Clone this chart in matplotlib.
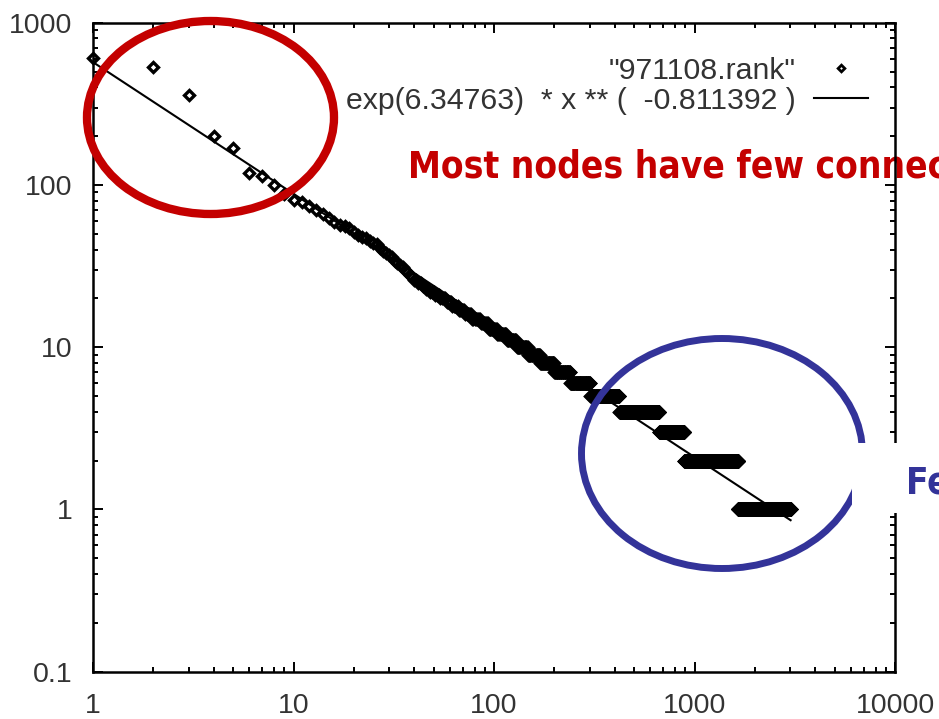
import matplotlib
matplotlib.use("Agg")
import matplotlib.pyplot as plt
from matplotlib.patches import Ellipse, Rectangle
import numpy as np

# degree of the top ranked nodes (rank 1..33)
top_degree = [604, 531, 357, 199, 169, 119, 114, 100, 88, 81,
              79, 74, 70, 66, 63, 59, 57, 56, 54, 51,
              49, 48, 47, 45, 44, 43, 41, 39, 38, 37,
              36, 34, 33]

# below that: degree level and the first rank that has it
tail_degree = [32, 31, 30, 29, 28, 27, 26, 25, 24, 23, 22, 21, 20, 19, 18,
               17, 16, 15, 14, 13, 12, 11, 10, 9, 8, 7, 6, 5, 4, 3, 2, 1]
tail_first_rank = [34, 35, 36, 37, 38, 39, 40, 42, 44, 46, 48, 51, 54, 58, 62,
                   67, 72, 78, 86, 94, 104, 116, 130, 148, 170, 200, 240, 302,
                   422, 668, 890, 1650]
last_rank = 3015

fit_a = 6.34763
fit_b = -0.811392

x_ticks = [1, 10, 100, 1000, 10000]
x_labels = ["1", "10", "100", "1000", "10000"]
y_ticks = [0.1, 1, 10, 100, 1000]
y_labels = ["0.1", "1", "10", "100", "1000"]

W, H = 939, 719

counts = np.diff(tail_first_rank + [last_rank + 1])
ranks = np.arange(1, last_rank + 1)
degrees = np.concatenate([top_degree, np.repeat(tail_degree, counts)])

x_fit = np.array([1, last_rank])
y_fit = np.exp(fit_a) * x_fit ** fit_b

plt.rcParams['font.family'] = ['Liberation Sans', 'DejaVu Sans']

fig = plt.figure(figsize=(W / 100, H / 100), dpi=100)
ax = fig.add_axes([93 / W, 1 - 671.7 / H, (895 - 93) / W, (671.7 - 22.7) / H])
ax.patch.set_alpha(0)

ax.plot(ranks, degrees, linestyle='none', marker='D', markersize=5.4,
        mfc='none', mec='black', mew=2.4, clip_on=False,
        label='"971108.rank"')
ax.plot(x_fit, y_fit, color='black', lw=1.5,
        label='exp(6.34763)  * x ** (  -0.811392 )')

ax.set_xscale('log')
ax.set_yscale('log')
ax.set_xlim(1, 10000)
ax.set_ylim(0.1, 1000)
ax.set_xticks(x_ticks, x_labels)
ax.set_yticks(y_ticks, y_labels)

for s in ax.spines.values():
    s.set_linewidth(1.8)
ax.tick_params(which='both', direction='in', top=True, right=True,
               width=1.4, colors='black', labelcolor='#333333', labelsize=20.5)
ax.tick_params(which='major', length=7.2)
ax.tick_params(which='minor', length=3.6)
ax.tick_params(axis='y', pad=15)
ax.tick_params(axis='x', pad=15)

leg = ax.legend(loc='upper right', bbox_to_anchor=(868 / W, 1 - 57 / H),
                bbox_transform=fig.transFigure, frameon=False, markerfirst=False,
                numpoints=1, fontsize=21.8, handlelength=1.8, handletextpad=0.6,
                borderpad=0, borderaxespad=0, labelspacing=0.05)
for t in leg.get_texts():
    t.set_color('#333333')
leg.legend_handles[0].set_markersize(3.4)
leg.legend_handles[0].set_markeredgewidth(2.0)

# callouts
def fx(px):
    return px / W

def fy(py):
    return 1 - py / H

red_ell = Ellipse((fx(210.5), fy(117.5)), 247 / W, 193 / H, transform=fig.transFigure,
                  fill=False, edgecolor='#C40000', lw=6, zorder=2)
blue_ell = Ellipse((fx(722), fy(453.5)), 281 / W, 230 / H, transform=fig.transFigure,
                   fill=False, edgecolor='#333399', lw=5, zorder=2)
fig.add_artist(red_ell)
fig.add_artist(blue_ell)
fig.add_artist(Rectangle((fx(852), fy(513)), (W - 852) / W, 70 / H,
                         transform=fig.transFigure, facecolor='white',
                         edgecolor='none', zorder=3))

fig.text(fx(408), fy(177), "Most nodes have few connections", color='#C40000',
         fontsize=26.6, fontweight='bold', family='DejaVu Sans', fontstretch='condensed',
         ha='left', va='baseline', zorder=-1)
fig.text(fx(906), fy(494), "Few nodes have many connections", color='#333399',
         fontsize=26.6, fontweight='bold', family='DejaVu Sans', fontstretch='condensed',
         ha='left', va='baseline', zorder=4)

fig.savefig("out.png", dpi=100)
plt.close(fig)
